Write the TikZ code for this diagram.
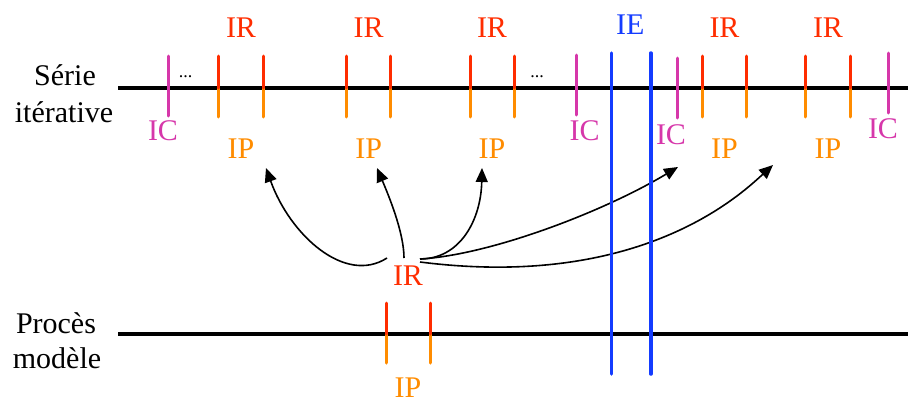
\documentclass[tikz,border=0pt]{standalone}
\usepackage{fontspec}
\setmainfont{Liberation Serif}
\usetikzlibrary{arrows.meta,calc}
\definecolor{cred}{RGB}{255,45,0}
\definecolor{corange}{RGB}{255,140,0}
\definecolor{cmag}{RGB}{214,55,170}
\definecolor{cblue}{RGB}{20,60,255}
\begin{document}
\begin{tikzpicture}[x=1pt,y=-1pt,
  lbl/.style={inner sep=0pt, anchor=base, font=\fontsize{30}{36}\selectfont},
  dots/.style={inner sep=0pt, anchor=base, font=\fontsize{18}{20}\selectfont},
  tickline/.style={line width=3pt, line cap=round},
  mainline/.style={line width=3.5pt},
  ieline/.style={line width=3.5pt, cblue, line cap=round},
  arr/.style={line width=1.6pt, -{Triangle[length=14pt,width=12pt]}}]
\useasboundingbox (0,0) rectangle (908,405);

% left labels
\node[lbl] (s1) at (65,85) {Série};
\node[lbl] (s2) at (64,122) {itérative};
\node[lbl] (p1) at (56,333) {Procès};
\node[lbl] (p2) at (57,368) {modèle};

% main lines
\draw[mainline] (118,88) -- (908,88);
\draw[mainline] (118,334) -- (908,334);

% IR/IP pairs on the iterative series
\foreach \x in {218.7,263.3,346.7,390.7,470,514.3,702.3,746.7,805.7,850}{
  \draw[tickline, corange] (\x,88) -- (\x,117);
  \draw[tickline, cred] (\x,56) -- (\x,88);
}
% IC ticks
\draw[tickline, cmag] (168,56) -- (168,116);
\draw[tickline, cmag] (576.7,55) -- (576.7,115);
\draw[tickline, cmag] (677.3,58) -- (677.3,118);
\draw[tickline, cmag] (888.3,53) -- (888.3,113);

% model process pair
\draw[tickline, corange] (386,334) -- (386,363);
\draw[tickline, cred] (386,303) -- (386,334);
\draw[tickline, corange] (430.7,334) -- (430.7,363);
\draw[tickline, cred] (430.7,303) -- (430.7,334);

% dots
\node[dots] (d1) at (185.5,77) {...};
\node[dots] (d2) at (537,77) {...};

% top labels
\node[lbl, text=cred] (ir1) at (241,37) {IR};
\node[lbl, text=cred] (ir2) at (368.7,37) {IR};
\node[lbl, text=cred] (ir3) at (492,37) {IR};
\node[lbl, text=cred] (ir4) at (724.5,37) {IR};
\node[lbl, text=cred] (ir5) at (828,37) {IR};
\node[lbl, text=cblue] (ie) at (630.3,34) {IE};

\node[lbl, text=corange] (ip1) at (241,158) {IP};
\node[lbl, text=corange] (ip2) at (368.7,158) {IP};
\node[lbl, text=corange] (ip3) at (492,158) {IP};
\node[lbl, text=corange] (ip4) at (724.5,158) {IP};
\node[lbl, text=corange] (ip5) at (828,158) {IP};

\node[lbl, text=cmag] (ic1) at (163,140) {IC};
\node[lbl, text=cmag] (ic2) at (584.7,140) {IC};
\node[lbl, text=cmag] (ic3) at (671,144) {IC};
\node[lbl, text=cmag] (ic4) at (883,138) {IC};

% model labels
\node[lbl, text=cred] (ir) at (408,285) {IR};
\node[lbl, text=corange] (ipm) at (408,397) {IP};

% arrows
\draw[arr] ($(ir.base)+(-21,-27)$) .. controls (345,285) and (290,235) .. ($(ip1.base)+(25,10)$);
\draw[arr] ($(ir.base)+(-4,-27)$) .. controls (404,232) and (388,194) .. ($(ip2.base)+(8.3,10)$);
\draw[arr] ($(ir.base)+(12,-26)$) .. controls (460,259) and (481,220) .. ($(ip3.base)+(-10,10)$);
\draw[arr] ($(ir.base)+(12,-26)$) .. controls (490,255) and (603,212) .. ($(ip4.base)+(-46.5,9)$);
\draw[arr] ($(ir.base)+(12,-23)$) .. controls (640,290) and (740,195) .. ($(ip5.base)+(-55,7)$);

% IE lines
\draw[ieline] (611.5,53) -- (611.5,374);
\draw[ieline] (650.8,53) -- (650.8,374);
\end{tikzpicture}
\end{document}
